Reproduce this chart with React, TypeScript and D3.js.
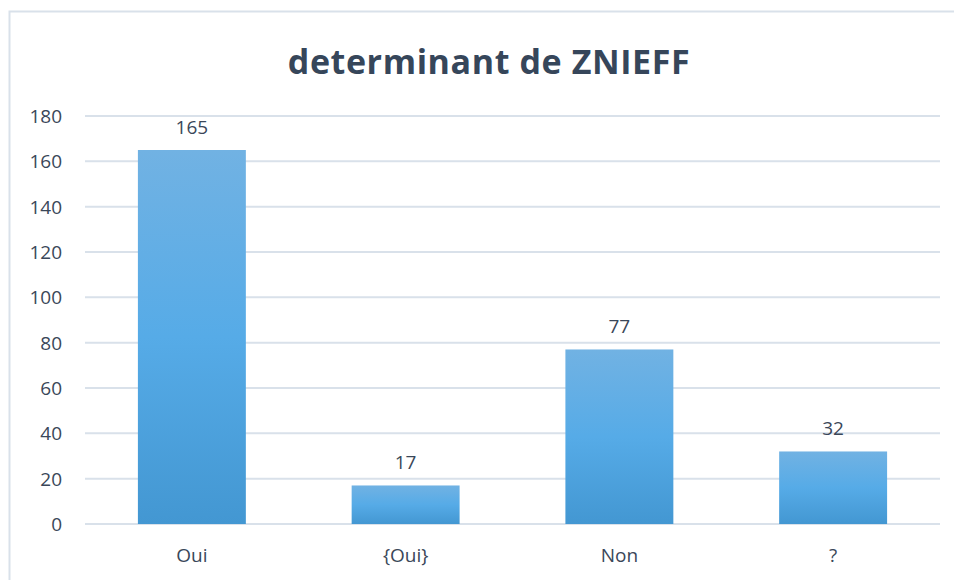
import React, { useRef, useEffect } from "react";
import * as d3 from "d3";

const categories = ["Oui", "{Oui}", "Non", "?"];
const counts = [165, 17, 77, 32];
const yTicks = [0, 20, 40, 60, 80, 100, 120, 140, 160, 180];
const chartTitle = "determinant de ZNIEFF";

export default function App() {
  const ref = useRef<SVGSVGElement>(null);

  const layout = {
    width: 954,
    height: 580,
    marginTop: 116,
    marginRight: 14,
    marginBottom: 56,
    marginLeft: 85,
  };

  useEffect(() => {
    const svg = d3.select(ref.current);
    svg.selectAll("*").remove();

    const font = "'Open Sans', Calibri, sans-serif";
    const textColor = "#3a4759";

    const x = d3
      .scaleBand<string>()
      .domain(categories)
      .range([layout.marginLeft, layout.width - layout.marginRight])
      .paddingInner(0.495)
      .paddingOuter(0.2475);

    const y = d3
      .scaleLinear()
      .domain([0, 180])
      .range([layout.height - layout.marginBottom, layout.marginTop]);

    const defs = svg.append("defs");
    const grad = defs
      .append("linearGradient")
      .attr("id", "barGrad")
      .attr("x1", 0)
      .attr("y1", 0)
      .attr("x2", 0)
      .attr("y2", 1);
    grad.append("stop").attr("offset", "0%").attr("stop-color", "#71b2e3");
    grad.append("stop").attr("offset", "50%").attr("stop-color", "#56abe7");
    grad.append("stop").attr("offset", "100%").attr("stop-color", "#4397d2");

    // chart border
    svg
      .append("rect")
      .attr("x", 9.5)
      .attr("y", 11.5)
      .attr("width", 960)
      .attr("height", 600)
      .attr("fill", "white")
      .attr("stroke", "#d9e1ea")
      .attr("stroke-width", 2);

    svg
      .append("text")
      .attr("x", 489)
      .attr("y", 74)
      .attr("text-anchor", "middle")
      .attr("font-family", font)
      .attr("font-weight", "bold")
      .attr("font-size", 34)
      .attr("letter-spacing", 0.6)
      .attr("fill", "#36465a")
      .text(chartTitle);

    const grid = svg.append("g");
    grid
      .selectAll("line")
      .data(yTicks)
      .join("line")
      .attr("x1", layout.marginLeft)
      .attr("x2", layout.width - layout.marginRight)
      .attr("y1", (d) => y(d))
      .attr("y2", (d) => y(d))
      .attr("stroke", "#d9e1ea")
      .attr("stroke-width", 2);

    svg
      .append("g")
      .selectAll("text")
      .data(yTicks)
      .join("text")
      .attr("x", 62)
      .attr("y", (d) => y(d))
      .attr("dy", "0.36em")
      .attr("text-anchor", "end")
      .attr("font-family", font)
      .attr("font-size", 19)
      .attr("fill", textColor)
      .text((d) => d);

    svg
      .append("g")
      .selectAll("rect")
      .data(counts)
      .join("rect")
      .attr("x", (d, i) => x(categories[i])!)
      .attr("y", (d) => y(d))
      .attr("width", x.bandwidth())
      .attr("height", (d) => y(0) - y(d))
      .attr("fill", "url(#barGrad)");

    svg
      .append("g")
      .selectAll("text")
      .data(counts)
      .join("text")
      .attr("x", (d, i) => x(categories[i])! + x.bandwidth() / 2)
      .attr("y", (d) => y(d) - 16)
      .attr("text-anchor", "middle")
      .attr("font-family", font)
      .attr("font-size", 19)
      .attr("fill", textColor)
      .text((d) => d);

    svg
      .append("g")
      .selectAll("text")
      .data(categories)
      .join("text")
      .attr("x", (d) => x(d)! + x.bandwidth() / 2)
      .attr("y", 562)
      .attr("text-anchor", "middle")
      .attr("font-family", font)
      .attr("font-size", 19)
      .attr("fill", textColor)
      .text((d) => d);
  }, []);

  return (
    <svg
      ref={ref}
      width={layout.width}
      height={layout.height}
      style={{ position: "absolute", left: 0, top: 0 }}
    />
  );
}
